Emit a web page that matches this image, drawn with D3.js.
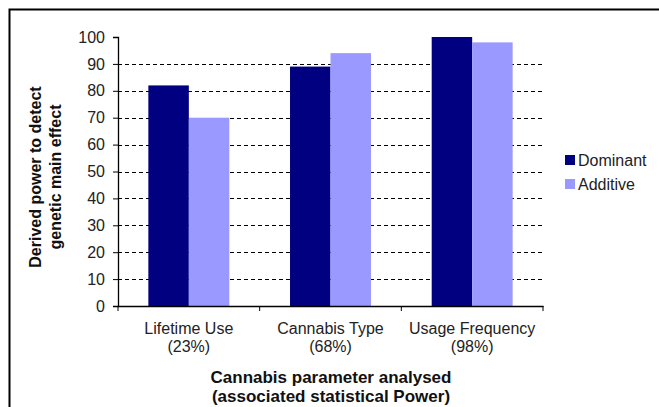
<!DOCTYPE html>
<html>
<head>
<meta charset="utf-8">
<script src="https://cdn.jsdelivr.net/npm/d3@7"></script>
<style>
  body { margin: 0; background: #fff; }
  text { font-family: Arial, "Liberation Sans", sans-serif; }
</style>
</head>
<body>
<div id="chart"></div>
<script>
// data
var categories = ["Lifetime Use", "Cannabis Type", "Usage Frequency"];
var categoryPower = ["(23%)", "(68%)", "(98%)"];
var seriesNames = ["Dominant", "Additive"];
var dominant = [82, 89, 100];
var additive = [70, 94, 98];
var yTicks = [0, 10, 20, 30, 40, 50, 60, 70, 80, 90, 100];
var colors = {"Dominant": "#000080", "Additive": "#9999ff"};

var W = 659, H = 407;
var margin = {top: 37, left: 118, right: 116, bottom: 101};
var width = W - margin.left - margin.right,
    height = H - margin.top - margin.bottom;

var svg = d3.select("#chart")
  .append("svg")
    .attr("width", W)
    .attr("height", H);

// frame (open to the right and bottom)
svg.append("path")
  .attr("d", "M9.5," + H + "V9.5H" + W)
  .attr("fill", "none")
  .attr("stroke", "#000")
  .attr("stroke-width", 2);

var g = svg.append("g")
  .attr("transform", "translate(" + margin.left + "," + margin.top + ")");

var x0 = d3.scaleBand()
  .domain(categories)
  .range([0, width])
  .padding(0);

var x1 = d3.scaleBand()
  .domain(seriesNames)
  .range([0, x0.bandwidth()])
  .paddingInner(0)
  .paddingOuter(0.75);

var y = d3.scaleLinear()
  .domain([0, 100])
  .range([height, 0]);

// dashed gridlines
g.append("g")
  .selectAll("line")
  .data(yTicks.filter(d => d > 0 && d < 100))
  .enter()
  .append("line")
    .attr("x1", 0)
    .attr("x2", width)
    .attr("y1", d => Math.round(y(d)) + 0.5)
    .attr("y2", d => Math.round(y(d)) + 0.5)
    .attr("stroke", "#000")
    .attr("stroke-dasharray", "4,3");

// bars
var rows = categories.map((c, i) => ({cat: c, values: [
  {key: "Dominant", value: dominant[i]},
  {key: "Additive", value: additive[i]}
]}));

g.append("g")
  .selectAll("g")
  .data(rows)
  .enter()
  .append("g")
    .attr("transform", d => "translate(" + x0(d.cat) + ",0)")
  .selectAll("rect")
  .data(d => d.values)
  .enter()
  .append("rect")
    .attr("x", d => x1(d.key))
    .attr("y", d => y(d.value))
    .attr("width", x1.bandwidth())
    .attr("height", d => height - y(d.value))
    .attr("fill", d => colors[d.key]);

// y axis
var yAxis = g.append("g")
  .call(d3.axisLeft(y).tickValues(yTicks).tickSize(5).tickPadding(8));
yAxis.select(".domain").attr("stroke", "#000").attr("stroke-width", 1.3);
yAxis.selectAll("text")
  .style("font-size", "16px")
  .attr("fill", "#222");

// x axis
var xAxis = g.append("g")
  .attr("transform", "translate(0," + height + ")")
  .call(d3.axisBottom(x0).tickSize(0).tickFormat(""));
xAxis.select(".domain").attr("stroke", "#000").attr("stroke-width", 1.3);
xAxis.selectAll(".boundary")
  .data(d3.range(categories.length + 1))
  .enter()
  .append("line")
    .attr("x1", d => d * x0.step())
    .attr("x2", d => d * x0.step())
    .attr("y1", 0)
    .attr("y2", 5)
    .attr("stroke", "#000");

// category labels
var lab = g.append("g")
  .selectAll("text")
  .data(categories)
  .enter()
  .append("text")
    .attr("x", d => x0(d) + x0.bandwidth() / 2)
    .attr("y", height + 28)
    .attr("text-anchor", "middle")
    .style("font-size", "16px")
    .attr("fill", "#222");
lab.append("tspan").text(d => d);
lab.append("tspan")
  .attr("x", d => x0(d) + x0.bandwidth() / 2)
  .attr("dy", 18)
  .text((d, i) => categoryPower[i]);

// x axis title
var xt = svg.append("text")
  .attr("x", 331)
  .attr("y", 383)
  .attr("text-anchor", "middle")
  .style("font-size", "17px")
  .style("font-weight", "bold")
  .attr("fill", "#111");
xt.append("tspan").text("Cannabis parameter analysed");
xt.append("tspan").attr("x", 331).attr("dy", 19).text("(associated statistical Power)");

// y axis title
var yt = svg.append("text")
  .attr("transform", "translate(41,177) rotate(-90)")
  .attr("text-anchor", "middle")
  .style("font-size", "16px")
  .style("font-weight", "bold")
  .attr("fill", "#111");
yt.append("tspan").attr("x", 0).text("Derived power to detect");
yt.append("tspan").attr("x", 0).attr("dy", 20).text("genetic main effect");

// legend
var legend = svg.append("g")
  .selectAll("g")
  .data(seriesNames)
  .enter()
  .append("g")
    .attr("transform", (d, i) => "translate(565," + (160 + i * 24) + ")");
legend.append("rect")
  .attr("x", 0)
  .attr("y", -5)
  .attr("width", 10)
  .attr("height", 10)
  .attr("fill", d => colors[d]);
legend.append("text")
  .attr("x", 13)
  .attr("y", 0)
  .attr("dy", "0.35em")
  .style("font-size", "16px")
  .attr("fill", "#222")
  .text(d => d);
</script>
</body>
</html>
